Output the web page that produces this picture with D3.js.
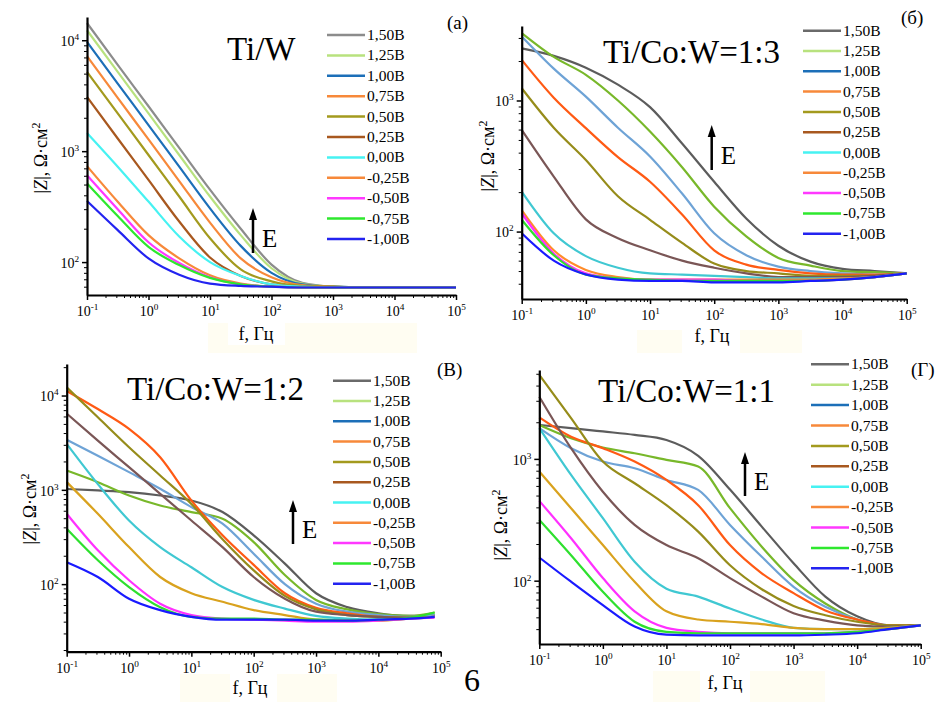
<!DOCTYPE html>
<html>
<head>
<meta charset="utf-8">
<script src="https://cdn.jsdelivr.net/npm/d3@7"></script>
<style>
  body { margin: 0; background: #fff; }
  svg { display: block; }
  text { font-family: "Liberation Serif", "Times New Roman", serif; fill: #000; }
</style>
</head>
<body>
<svg id="chart" width="936" height="702"></svg>
<script>
// legend labels, same in every panel
const voltages = ["1,50В", "1,25В", "1,00В", "0,75В", "0,50В", "0,25В", "0,00В", "-0,25В", "-0,50В", "-0,75В", "-1,00В"];

const freqs = [0.1, 0.316, 1, 3.16, 10, 31.6, 100, 316, 1000, 3160, 10000, 31600, 100000];
const freqsV = [0.1, 0.316, 1, 3.16, 10, 31.6, 100, 316, 1000, 3160, 10000, 31600, 80000];

// (а) Ti/W
const zTiW = [
  [14300, 6000, 2540, 1070, 450, 200, 95, 65, 60, 59, 59, 59, 59],
  [12300, 5190, 2190, 923, 390, 175, 88, 64, 60, 59, 59, 59, 59],
  [9660, 4070, 1720, 724, 305, 140, 80, 63, 60, 59, 59, 59, 59],
  [7180, 3020, 1276, 537, 227, 108, 73, 62, 60, 59, 59, 59, 59],
  [5190, 2190, 923, 390, 164, 86, 67, 61, 60, 59, 59, 59, 59],
  [3090, 1300, 550, 232, 110, 75, 63, 60, 59, 59, 59, 59, 59],
  [1460, 725, 351, 170, 100, 75, 63, 60, 59, 59, 59, 59, 59],
  [733, 350, 175, 108, 76, 64, 60, 59, 59, 59, 59, 59, 59],
  [608, 300, 151, 98, 73, 63, 60, 59, 59, 59, 59, 59, 59],
  [512, 260, 137, 94, 72, 63, 60, 59, 59, 59, 59, 59, 59],
  [355, 194, 108, 77, 64, 61, 60, 59, 59, 59, 59, 59, 59]
];

// (б) Ti/Co:W=1:3
const zCoW13 = [
  [2500, 2190, 1780, 1320, 890, 470, 240, 126, 78, 59, 52, 50, 48],
  [3270, 2150, 1570, 1000, 580, 310, 155, 92, 63, 55, 50, 49, 48],
  [3080, 1750, 1070, 620, 374, 195, 97, 66, 54, 50, 48, 47, 48],
  [2040, 1050, 615, 370, 240, 135, 72, 56, 51, 48, 47, 47, 48],
  [1240, 620, 352, 186, 123, 82, 57, 50, 48, 46, 46, 46, 48],
  [597, 263, 124, 89, 72, 60, 53, 48, 45, 45, 45, 46, 48],
  [202, 97, 65, 53, 48, 47, 46, 45, 44, 44, 44, 45, 48],
  [146, 72, 51, 45, 43, 43, 43, 43, 43, 43, 44, 45, 48],
  [138, 68, 48, 44, 43, 43, 43, 42, 42, 42, 43, 45, 48],
  [123, 66, 47, 44, 43, 42, 42, 42, 42, 42, 43, 45, 48],
  [97, 60, 47, 43, 42, 42, 41, 41, 41, 42, 43, 45, 48]
];

// (в) Ti/Co:W=1:2
const zCoW12 = [
  [1020, 985, 945, 871, 770, 581, 329, 165, 80, 57, 49, 46, 47],
  [1600, 1205, 871, 682, 581, 493, 279, 125, 68, 54, 48, 46, 50],
  [3400, 2300, 1540, 1025, 656, 437, 210, 100, 62, 51, 47, 45, 47],
  [11200, 7190, 4430, 2220, 771, 330, 160, 80, 56, 49, 45, 44, 45],
  [12200, 5880, 2830, 1420, 708, 300, 140, 75, 54, 47, 45, 44, 45],
  [6440, 3320, 1740, 907, 473, 247, 119, 70, 51, 47, 45, 44, 45],
  [3070, 1150, 473, 247, 151, 93, 68, 55, 46, 43, 42, 43, 45],
  [1210, 557, 247, 119, 80, 65, 53, 47, 42, 41, 41, 43, 45],
  [557, 228, 110, 62, 47, 43, 42, 41, 40, 40, 41, 43, 44],
  [386, 179, 93, 57, 45, 43, 43, 42, 42, 41, 42, 44, 50],
  [171, 119, 70, 53, 45, 42, 42, 42, 41, 41, 42, 43, 45]
];

// (г) Ti/Co:W=1:1
const zCoW11 = [
  [1900, 1790, 1680, 1575, 1430, 1060, 560, 278, 139, 74, 51, 43, 43],
  [1900, 1480, 1240, 1113, 981, 865, 394, 190, 101, 65, 48, 43, 43],
  [1790, 1224, 951, 838, 672, 556, 287, 157, 89, 61, 48, 43, 43],
  [2190, 1520, 1224, 951, 672, 417, 196, 115, 79, 57, 48, 43, 43],
  [4900, 2160, 951, 631, 417, 253, 134, 85, 62, 52, 46, 43, 43],
  [3240, 1224, 537, 287, 196, 153, 105, 74, 54, 47, 43, 42, 43],
  [1790, 738, 326, 143, 86, 74, 59, 48, 41, 40, 40, 41, 43],
  [787, 394, 196, 98, 56, 48, 46, 44, 41, 40, 40, 41, 43],
  [452, 223, 105, 56, 41, 38, 37, 37, 37, 37, 38, 40, 43],
  [316, 162, 81, 46, 38, 37, 37, 37, 37, 37, 38, 40, 43],
  [155, 98, 63, 42, 36, 35.5, 35.5, 35.5, 35.5, 36, 37, 40, 43]
];

const xMajor = [0.1, 1, 10, 100, 1000, 10000, 100000];

// colours
const colorsTiW = ["#8c8c8c", "#b8e27e", "#1c6fb8", "#f7893a", "#a39a1e", "#a8581f", "#46f2f2", "#f7893a", "#ff38ff", "#2ee82e", "#2323f0"];
const colorsCo13 = ["#5c5c5c", "#78b82a", "#6ea3d6", "#ff5a14", "#968c1a", "#7a5656", "#40c8d2", "#ff8c2a", "#ff30ff", "#2ee02e", "#1a1aff"];
const colorsCo = ["#5c5c5c", "#78b82a", "#6ea3d6", "#ff5a14", "#968c1a", "#7a5656", "#40c8d2", "#d9a21e", "#ff30ff", "#2ee02e", "#1a1aff"];
const legendColors = ["#8c8c8c", "#b8e27e", "#1c6fb8", "#f7893a", "#a39a1e", "#a8581f", "#46f2f2", "#f7893a", "#ff38ff", "#2ee82e", "#2323f0"];
const legendColorsCo = ["#6a6a6a", "#b8e27e", "#1c6fb8", "#f7893a", "#a39a1e", "#a8581f", "#46f2f2", "#f7893a", "#ff38ff", "#2ee82e", "#2323f0"];

const panels = [
  { title: "Ti/W", letter: "(a)", left: 87, right: 456, top: 17, bottom: 295, yDomain: [50.5, 16200],
    freqs: freqs, values: zTiW, colors: colorsTiW, legColors: legendColors,
    titleX: 227, titleY: 60, letterX: 447, letterY: 29,
    legX: 327, legY: 35, legStep: 20.4,
    arrowX: 253, arrowTop: 208, arrowBottom: 253,
    ylabX: 47, ylabY: 158, xlabX: 256, xlabY: 340,
    cream: [208, 323, 209, 30], white: [228, 323, 57, 22] },
  { title: "Ti/Co:W=1:3", letter: "(б)", left: 521.7, right: 906.7, top: 26, bottom: 299, yDomain: [30.6, 3700],
    freqs: freqs, values: zCoW13, colors: colorsCo13, legColors: legendColorsCo,
    titleX: 603, titleY: 63, letterX: 901, letterY: 24,
    legX: 803, legY: 30.7, legStep: 20.3,
    arrowX: 711.7, arrowTop: 125, arrowBottom: 170,
    ylabX: 494, ylabY: 156, xlabX: 712, xlabY: 342,
    cream: [637, 330, 165, 23], white: [682, 330, 58, 23] },
  { title: "Ti/Co:W=1:2", letter: "(В)", left: 66.7, right: 440.7, top: 364, bottom: 651.7, yDomain: [19.2, 21600],
    freqs: freqsV, values: zCoW12, colors: colorsCo, legColors: legendColorsCo,
    titleX: 127, titleY: 400, letterX: 437, letterY: 376,
    legX: 333, legY: 380.7, legStep: 20.3,
    arrowX: 293, arrowTop: 500, arrowBottom: 544,
    ylabX: 36, ylabY: 509, xlabX: 250, xlabY: 694,
    cream: [180, 674, 157, 28], white: [230, 674, 47, 28] },
  { title: "Ti/Co:W=1:1", letter: "(Г)", left: 539.3, right: 920.7, top: 370, bottom: 644, yDomain: [30.2, 5370],
    freqs: freqs, values: zCoW11, colors: colorsCo, legColors: legendColorsCo,
    titleX: 598, titleY: 402, letterX: 911, letterY: 376,
    legX: 811, legY: 364.3, legStep: 20.4,
    arrowX: 745, arrowTop: 452, arrowBottom: 496,
    ylabX: 507, ylabY: 525, xlabX: 725, xlabY: 689,
    cream: [653, 671, 172, 31], white: [700, 671, 50, 31] }
];

const svg = d3.select("#chart");
const serif = "Liberation Serif, Times New Roman, serif";

function logTicks(domain, minor) {
  const out = [];
  for (let e = -2; e <= 6; e++) {
    const steps = minor ? [2, 3, 4, 5, 6, 7, 8, 9] : [1];
    steps.forEach(m => {
      const v = m * Math.pow(10, e);
      if (v >= domain[0] * 0.999 && v <= domain[1] * 1.001) out.push(v);
    });
  }
  return out;
}

function powLabel(sel, fs) {
  sel.each(function(d) {
    const t = d3.select(this);
    t.text(null).attr("font-size", fs).attr("fill", "#000");
    t.append("tspan").text("10");
    t.append("tspan").attr("dy", -6).attr("font-size", fs * 0.66).text(String(Math.round(Math.log10(d))));
  });
}

function drawPanel(p) {
  const x = d3.scaleLog().domain([0.1, 1e5]).range([p.left, p.right]);
  const y = d3.scaleLog().domain(p.yDomain).range([p.bottom, p.top]);

  // faint background boxes round the x label
  svg.append("rect").attr("x", p.cream[0]).attr("y", p.cream[1]).attr("width", p.cream[2]).attr("height", p.cream[3]).attr("fill", "#fffdf2");
  svg.append("rect").attr("x", p.white[0]).attr("y", p.white[1]).attr("width", p.white[2]).attr("height", p.white[3]).attr("fill", "#fff");

  const line = d3.line()
    .x(d => x(d.f))
    .y(d => y(d.z))
    .curve(d3.curveMonotoneX);

  p.values.forEach((vals, i) => {
    const pts = p.freqs.map((f, j) => ({ f: f, z: vals[j] }));
    svg.append("path")
      .datum(pts)
      .attr("d", line)
      .attr("fill", "none")
      .attr("stroke", p.colors[i])
      .attr("stroke-width", 2.2)
      .attr("stroke-linejoin", "round");
  });

  // x axis
  const gx = svg.append("g")
    .attr("transform", `translate(0,${p.bottom})`)
    .call(d3.axisBottom(x).tickValues(xMajor).tickSize(5).tickSizeOuter(0).tickFormat(""));
  gx.attr("font-family", serif);
  gx.select(".domain").attr("stroke-width", 2.2);
  gx.selectAll(".tick line").attr("stroke-width", 1.5);
  gx.selectAll(".tick text").attr("y", 21).attr("dy", null);
  powLabel(gx.selectAll(".tick text"), 14);

  const gxm = svg.append("g")
    .attr("transform", `translate(0,${p.bottom})`)
    .call(d3.axisBottom(x).tickValues(logTicks([0.1, 1e5], true)).tickSize(3).tickFormat(""));
  gxm.select(".domain").remove();
  gxm.selectAll(".tick line").attr("stroke-width", 1);

  // y axis
  const gy = svg.append("g")
    .attr("transform", `translate(${p.left},0)`)
    .call(d3.axisLeft(y).tickValues(logTicks(p.yDomain, false)).tickSize(5).tickSizeOuter(0).tickFormat(""));
  gy.attr("font-family", serif);
  gy.select(".domain").attr("stroke-width", 2.2);
  gy.selectAll(".tick line").attr("stroke-width", 1.5);
  gy.selectAll(".tick text").attr("x", -8).attr("dy", "0.38em");
  powLabel(gy.selectAll(".tick text"), 14);

  const gym = svg.append("g")
    .attr("transform", `translate(${p.left},0)`)
    .call(d3.axisLeft(y).tickValues(logTicks(p.yDomain, true)).tickSize(3).tickFormat(""));
  gym.select(".domain").remove();
  gym.selectAll(".tick line").attr("stroke-width", 1);

  // axis titles
  const yl = svg.append("text")
    .attr("transform", `translate(${p.ylabX},${p.ylabY}) rotate(-90)`)
    .attr("text-anchor", "middle")
    .attr("font-size", 18);
  yl.append("tspan").text("|");
  yl.append("tspan").attr("font-style", "italic").text("Z");
  yl.append("tspan").text("|, Ω·см");
  yl.append("tspan").attr("dy", -7).attr("font-size", 12).text("2");

  svg.append("text")
    .attr("x", p.xlabX).attr("y", p.xlabY)
    .attr("text-anchor", "middle")
    .attr("font-size", 18)
    .text("f, Гц");

  // title and panel letter
  svg.append("text").attr("x", p.titleX).attr("y", p.titleY).attr("font-size", 33).text(p.title);
  svg.append("text").attr("x", p.letterX).attr("y", p.letterY).attr("font-size", 19).text(p.letter);

  // legend
  voltages.forEach((v, i) => {
    const ly = p.legY + i * p.legStep;
    svg.append("line")
      .attr("x1", p.legX).attr("x2", p.legX + 38)
      .attr("y1", ly).attr("y2", ly)
      .attr("stroke", p.legColors[i]).attr("stroke-width", 2.5);
    svg.append("text")
      .attr("x", p.legX + 40).attr("y", ly + 5)
      .attr("font-size", 15.5)
      .text(v);
  });

  // arrow E
  svg.append("line")
    .attr("x1", p.arrowX).attr("x2", p.arrowX)
    .attr("y1", p.arrowTop + 8).attr("y2", p.arrowBottom)
    .attr("stroke", "#000").attr("stroke-width", 2.5);
  svg.append("path")
    .attr("d", `M${p.arrowX},${p.arrowTop} L${p.arrowX - 4},${p.arrowTop + 12} L${p.arrowX + 4},${p.arrowTop + 12} Z`)
    .attr("fill", "#000");
  svg.append("text")
    .attr("x", p.arrowX + 9).attr("y", p.arrowBottom - 6)
    .attr("font-size", 25)
    .text("E");
}

panels.forEach(drawPanel);

svg.append("text")
  .attr("x", 472).attr("y", 691)
  .attr("text-anchor", "middle")
  .attr("font-size", 32)
  .text("6");
</script>
</body>
</html>
